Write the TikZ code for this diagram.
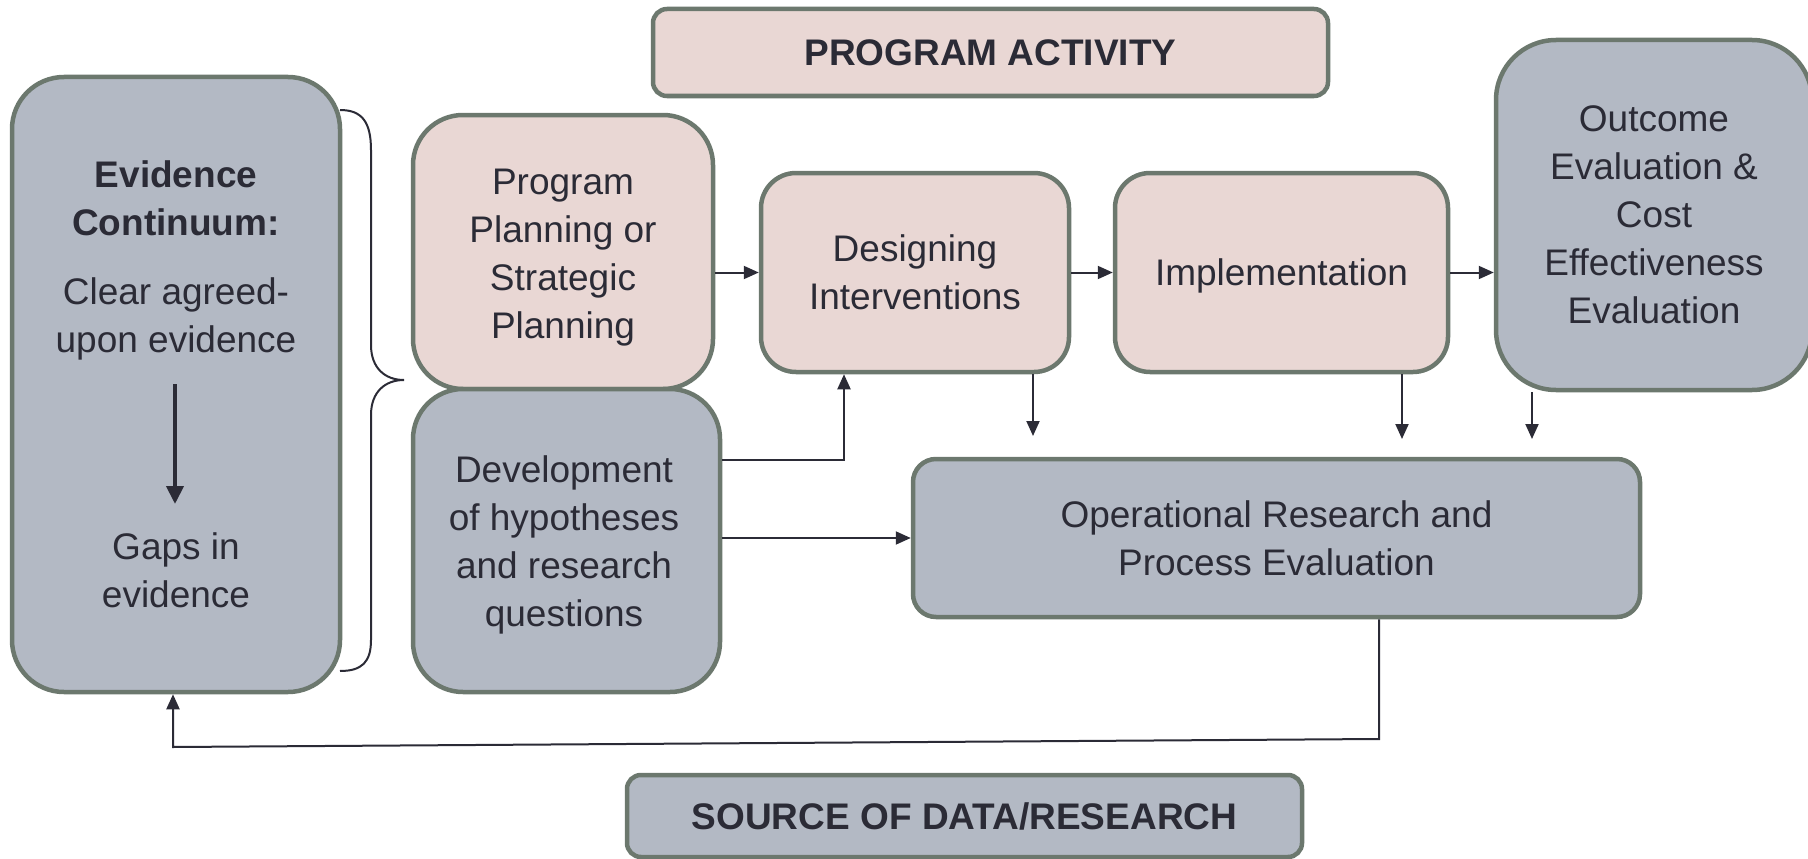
\documentclass[tikz,border=0pt]{standalone}
\usepackage{fontspec}
\setmainfont{Liberation Sans}
\usetikzlibrary{arrows.meta}
\definecolor{pinkf}{HTML}{E9D7D4}
\definecolor{greyf}{HTML}{B3B9C4}
\definecolor{bordc}{HTML}{6C786E}
\definecolor{txtc}{HTML}{2B2B36}
\tikzset{
  box/.style={draw=bordc, line width=4.5pt, align=center, text=txtc, inner sep=0pt,
    font=\fontsize{37}{48}\selectfont},
  pinkbox/.style={box, fill=pinkf},
  greybox/.style={box, fill=greyf},
  txt/.style={align=center, text=txtc, inner sep=0pt, font=\fontsize{37}{48}\selectfont},
  arr/.style={draw=txtc, line width=2pt, -{Triangle[length=15pt,width=13pt]}},
  bigarr/.style={draw=txtc, line width=4pt, -{Triangle[length=18pt,width=17pt]}},
}
\begin{document}
\begin{tikzpicture}[x=1pt,y=-1pt]
\useasboundingbox (0,0) rectangle (1808,859);
% boxes
\node[greybox, rounded corners=52pt, minimum width=328pt, minimum height=615pt] (ev) at (176,384.5) {};
\node[txt, font=\bfseries\fontsize{37}{48}\selectfont] (evtitle) at (176,198) {Evidence\\Continuum:};
\node[txt] (evtop) at (176,319) {Clear agreed-\\upon evidence};
\node[txt] (evbot) at (176,570) {Gaps in\\evidence};

\node[pinkbox, rounded corners=14pt, minimum width=675pt, minimum height=87pt, font=\bfseries\fontsize{37}{48}\selectfont] (pa) at (990.5,52.5) {PROGRAM ACTIVITY};
\node[greybox, rounded corners=14pt, minimum width=675pt, minimum height=82pt, font=\bfseries\fontsize{37}{48}\selectfont] (src) at (964.5,816) {SOURCE OF DATA/RESEARCH};

\node[pinkbox, rounded corners=50pt, minimum width=300pt, minimum height=274pt] (pp) at (563,252) {};
\node[txt] (ppt) at (563,258) {Program\\Planning or\\Strategic\\Planning};
\node[greybox, rounded corners=50pt, minimum width=307pt, minimum height=303pt] (dev) at (566.5,540.5) {};
\node[txt] (devt) at (564,544.5) {Development\\of hypotheses\\and research\\questions};
\node[pinkbox, rounded corners=35pt, minimum width=308pt, minimum height=199pt] (des) at (915,272.5) {Designing\\Interventions};
\node[pinkbox, rounded corners=35pt, minimum width=333pt, minimum height=199pt] (impl) at (1281.5,272.5) {};
\node[txt] (implt) at (1281.5,276) {Implementation};
\node[greybox, rounded corners=60pt, minimum width=316pt, minimum height=350pt] (out) at (1654,215) {Outcome\\Evaluation \&\\Cost\\Effectiveness\\Evaluation};
\node[greybox, rounded corners=23pt, minimum width=727pt, minimum height=158pt] (opr) at (1276.5,538) {Operational Research and\\Process Evaluation};

% brace
\draw[draw=txtc, line width=2pt] (340,110) .. controls (362,110) and (371,122) .. (371,150) -- (371,345) .. controls (371,368) and (385,380) .. (404,380) .. controls (385,380) and (371,392) .. (371,415) -- (371,640) .. controls (371,662) and (362,671) .. (340,671);

% evidence inner arrow
\coordinate (ea1) at (175,384);
\coordinate (ea2) at (175,504);
\draw[bigarr] (ea1) -- (ea2);

% flow arrows
\draw[arr] (pp.east |- des.west) -- (des.west);
\draw[arr] (des.east) -- (impl.west);
\draw[arr] (impl.east) -- (out.west |- impl.east);

\coordinate (d1) at (1033,436);
\coordinate (d2) at (1402,439);
\coordinate (d3) at (1532,439);
\draw[arr] (des.south -| d1) -- (d1);
\draw[arr] (impl.south -| d2) -- (d2);
\draw[arr] (out.south -| d3) -- (d3);

\coordinate (k1) at (844,460);
\draw[arr] (dev.east |- k1) -- (k1) -- (des.south -| k1);
\draw[arr] (dev.east |- opr.west) -- (opr.west);

\coordinate (f1) at (1379,739);
\coordinate (f2) at (173,747);
\draw[arr] (opr.south -| f1) -- (f1) -- (f2) -- (ev.south -| f2);
\end{tikzpicture}
\end{document}
